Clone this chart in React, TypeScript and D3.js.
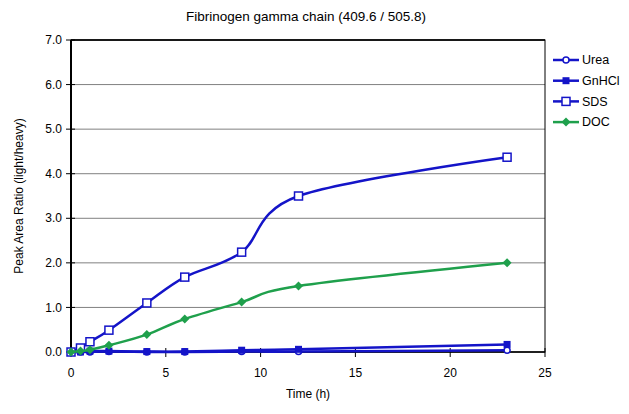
import * as d3 from "d3";

const times = [0, 0.5, 1, 2, 4, 6, 9, 12, 23];
const urea = [0, 0, 0, 0.01, 0, 0, 0.01, 0.01, 0.04];
const gnhcl = [0, 0, 0.02, 0.02, 0.01, 0.01, 0.04, 0.06, 0.17];
const sds = [0, 0.09, 0.23, 0.49, 1.1, 1.68, 2.24, 3.5, 4.37];
const doc = [0, 0.02, 0.05, 0.15, 0.39, 0.74, 1.12, 1.48, 2.0];
const yTicks = [0, 1, 2, 3, 4, 5, 6, 7];
const xTicks = [0, 5, 10, 15, 20, 25];

const BLUE = "#1414c8";
const GREEN = "#1fa04c";

const series = [
  { name: "Urea", values: urea, color: BLUE, marker: "circle" },
  { name: "GnHCl", values: gnhcl, color: BLUE, marker: "square" },
  { name: "SDS", values: sds, color: BLUE, marker: "openSquare" },
  { name: "DOC", values: doc, color: GREEN, marker: "diamond" },
];

const W = 629;
const H = 414;
const margin = { top: 40, right: 84, bottom: 62, left: 71 };

function Marker({ type, x, y, color }: { type: string; x: number; y: number; color: string }) {
  if (type === "circle")
    return <circle cx={x} cy={y} r={3} fill="#fff" stroke={color} strokeWidth={1.5} />;
  if (type === "square")
    return <rect x={x - 3.5} y={y - 3.5} width={7} height={7} fill={color} />;
  if (type === "openSquare")
    return <rect x={x - 4} y={y - 4} width={8} height={8} fill="#fff" stroke={color} strokeWidth={1.5} />;
  return <path d={`M${x},${y - 4.5}L${x + 4.5},${y}L${x},${y + 4.5}L${x - 4.5},${y}Z`} fill={color} />;
}

export default function App() {
  const iw = W - margin.left - margin.right;
  const ih = H - margin.top - margin.bottom;
  const x = d3.scaleLinear().domain([0, 25]).range([0, iw]);
  const y = d3.scaleLinear().domain([0, 7]).range([ih, 0]);
  const line = d3
    .line<number>()
    .x((_, i) => x(times[i]))
    .y((d) => y(d))
    .curve(d3.curveCardinal.tension(0));

  return (
    <svg
      width={W}
      height={H}
      style={{ position: "absolute", left: 0, top: 0, background: "#fff" }}
      fontFamily="Liberation Sans, Arial, sans-serif"
    >
      <text x={306} y={21} textAnchor="middle" fontSize={13.5}>
        Fibrinogen gamma chain (409.6 / 505.8)
      </text>
      <g transform={`translate(${margin.left},${margin.top})`}>
        {yTicks.slice(1).map((t) => (
          <line key={t} x1={0} x2={iw} y1={y(t)} y2={y(t)} stroke="#808080" strokeWidth={1} />
        ))}
        <rect x={0} y={0} width={iw} height={ih} fill="none" stroke="#000" strokeWidth={1} />
        <line x1={0} x2={iw} y1={0} y2={0} stroke="#000" strokeWidth={1.5} />
        <line x1={0} x2={0} y1={0} y2={ih} stroke="#000" strokeWidth={2} />
        <line x1={0} x2={iw} y1={ih} y2={ih} stroke="#000" strokeWidth={1.5} />
        {yTicks.map((t) => (
          <g key={t} transform={`translate(0,${y(t)})`}>
            <line x1={-5} x2={4} stroke="#000" />
            <text x={-9} dy="0.35em" textAnchor="end" fontSize={12}>
              {t.toFixed(1)}
            </text>
          </g>
        ))}
        {xTicks.map((t) => (
          <g key={t} transform={`translate(${x(t)},${ih})`}>
            <line y1={-4} y2={5} stroke="#000" />
            <text y={25} textAnchor="middle" fontSize={12}>
              {t}
            </text>
          </g>
        ))}
        {series.map((s) => (
          <g key={s.name}>
            <path d={line(s.values) || ""} fill="none" stroke={s.color} strokeWidth={2.5} />
            {s.values.map((v, i) => (
              <Marker key={i} type={s.marker} x={x(times[i])} y={y(v)} color={s.color} />
            ))}
          </g>
        ))}
        <text x={iw / 2} y={ih + 46} textAnchor="middle" fontSize={12}>
          Time (h)
        </text>
        <text
          transform={`translate(${-48},${ih / 2}) rotate(-90)`}
          textAnchor="middle"
          fontSize={12}
        >
          Peak Area Ratio (light/heavy)
        </text>
      </g>
      {series.map((s, i) => (
        <g key={s.name} transform={`translate(553,${60 + i * 20.7})`}>
          <line x1={0} x2={26} stroke={s.color} strokeWidth={2.5} />
          <Marker type={s.marker} x={13} y={0} color={s.color} />
          <text x={29} dy="0.35em" fontSize={12.5}>
            {s.name}
          </text>
        </g>
      ))}
    </svg>
  );
}
